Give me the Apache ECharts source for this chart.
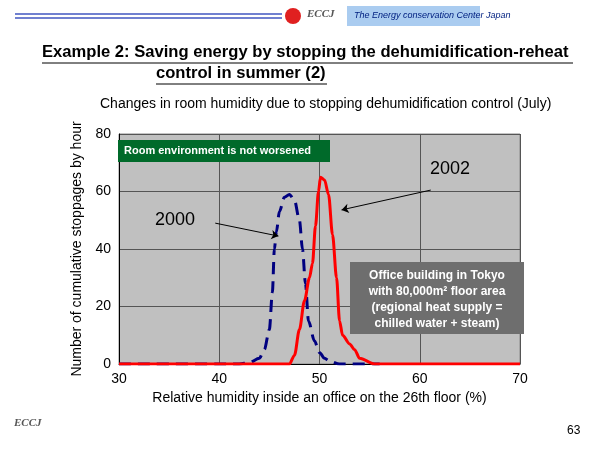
<!DOCTYPE html><html><head><meta charset="utf-8"><script src="https://cdn.jsdelivr.net/npm/echarts@6/dist/echarts.min.js"></script></head><body style="margin:0;background:#fff"><div id="c" style="width:600px;height:450px"></div><script>
const x2000=[30,42,43,44,44.5,45,45.3,45.5,45.7,46,46.5,47,47.5,48,48.3,48.6,48.9,49.5,50,50.5,51,52,56];
const y2000=[0,0,0.5,2,5,12,25,40,46,53,58,59,57,50,40,28,15,8,4,2,1,0,0];
const x2002=[30,47,47.5,48,48.5,49,49.3,49.6,49.9,50.1,50.5,50.9,51.3,51.7,52,52.3,53,53.5,54,55.5,70];
const y2002=[0,0,3,12,22,30,35,48,60,65,64,59,45,30,15,10,7,5,2,0,0];
const xTicks=[30,40,50,60,70];
const yTicks=[0,20,40,60,80];
const z=(a,b)=>a.map((v,i)=>[v,b[i]]);
const F='Arial, Liberation Sans, sans-serif';
const c=echarts.init(document.getElementById('c'));
const G=[
{type:'line',shape:{x1:15,y1:14,x2:282,y2:14},style:{stroke:'#7080d0',lineWidth:2}},
{type:'line',shape:{x1:15,y1:18,x2:282,y2:18},style:{stroke:'#7080d0',lineWidth:2}},
{type:'circle',shape:{cx:293,cy:16,r:8},style:{fill:'#e02020'}},
{type:'text',left:307,top:9,style:{text:'ECCJ',font:'italic bold 11px serif',fill:'#555'}},
{type:'rect',shape:{x:347,y:6,width:133,height:20},style:{fill:'#aaccf0'}},
{type:'text',left:354,top:11,style:{text:'The Energy conservation Center Japan',font:'italic 9px '+F,fill:'#002080'}},
{type:'text',left:42,top:44,style:{text:'Example 2: Saving energy by stopping the dehumidification-reheat',font:'bold 16.6px '+F,fill:'#000'}},
{type:'line',shape:{x1:42,y1:63,x2:573,y2:63},style:{stroke:'#000',lineWidth:1}},
{type:'text',left:156,top:65,style:{text:'control in summer (2)',font:'bold 16.6px '+F,fill:'#000'}},
{type:'line',shape:{x1:156,y1:84,x2:327,y2:84},style:{stroke:'#000',lineWidth:1}},
{type:'text',left:100,top:97,style:{text:'Changes in room humidity due to stopping dehumidification control (July)',font:'14px '+F,fill:'#000'}},
{type:'rect',shape:{x:118,y:140,width:212,height:22},style:{fill:'#006a2a'}},
{type:'text',left:124,top:145,style:{text:'Room environment is not worsened',font:'bold 11px '+F,fill:'#fff'}},
{type:'text',left:430,top:160,style:{text:'2002',font:'18px '+F,fill:'#000'}},
{type:'text',left:155,top:211,style:{text:'2000',font:'18px '+F,fill:'#000'}},
{type:'rect',shape:{x:350,y:262,width:174,height:72},style:{fill:'#6e6e6e'}},
{type:'text',style:{x:437,y:268,text:'Office building in Tokyo\nwith 80,000m² floor area\n(regional heat supply =\nchilled water + steam)',font:'bold 12px '+F,fill:'#fff',textAlign:'center',lineHeight:16}},
{type:'text',left:14,top:418,style:{text:'ECCJ',font:'italic bold 11px serif',fill:'#555'}},
{type:'text',left:567,top:425,style:{text:'63',font:'12px '+F,fill:'#000'}}
].map(g=>Object.assign(g,{z:100}));
c.setOption({animation:false,
grid:{left:119,right:80,top:134,bottom:86,show:true,backgroundColor:'#c0c0c0',borderColor:'#888',borderWidth:1},
xAxis:{type:'value',min:30,max:70,interval:10,name:'Relative humidity inside an office on the 26th floor (%)',nameLocation:'middle',nameGap:27,nameTextStyle:{fontSize:14,fontFamily:F,color:'#000'},axisLabel:{fontSize:14,fontFamily:F,color:'#000'},axisLine:{lineStyle:{color:'#000'}},axisTick:{show:false},splitLine:{lineStyle:{color:'#555'}}},
yAxis:{type:'value',min:0,max:80,interval:20,name:'Number of cumulative stoppages by hour',nameLocation:'middle',nameGap:35,nameTextStyle:{fontSize:14,fontFamily:F,color:'#000'},axisLabel:{fontSize:14,fontFamily:F,color:'#000'},axisLine:{show:true,lineStyle:{color:'#000'}},axisTick:{show:false},splitLine:{lineStyle:{color:'#555'}}},
series:[
{type:'line',data:z(x2000,y2000),smooth:0.3,smoothMonotone:'x',symbol:'none',lineStyle:{color:'#000080',width:3,type:[12,7]},
 markLine:{silent:true,symbol:['none','arrow'],symbolSize:7,label:{show:false},lineStyle:{color:'#000',width:1,type:'solid'},data:[[{coord:[39.6,49]},{coord:[45.9,44.5]}],[{coord:[61.1,60.5]},{coord:[52.2,53.6]}]]}},
{type:'line',data:z(x2002,y2002),smooth:0.3,smoothMonotone:'x',symbol:'none',lineStyle:{color:'#ff0000',width:3}}
],
graphic:G});
</script></body></html>
